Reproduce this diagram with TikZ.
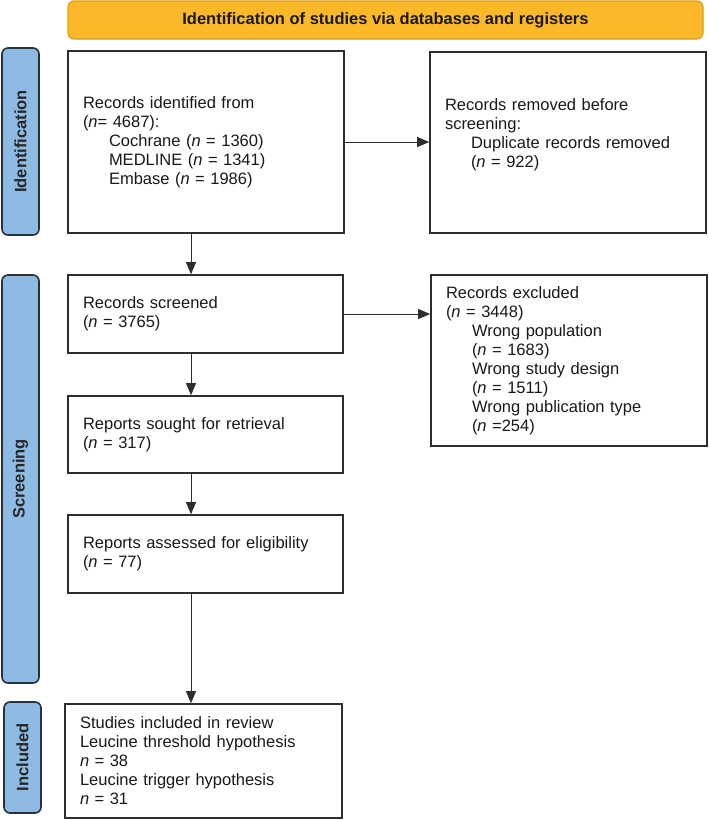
\documentclass[tikz,border=0pt]{standalone}
\usepackage{fontspec}
\setmainfont{Liberation Sans}
\usetikzlibrary{arrows.meta}
\definecolor{hdrfill}{HTML}{FBB829}
\definecolor{hdrdraw}{HTML}{D99E1E}
\definecolor{barfill}{HTML}{8DBBE3}
\definecolor{bardraw}{HTML}{2B2F36}
\definecolor{ln}{HTML}{2E2E2E}
\newcommand{\nn}{\textit{n}}
\newcommand{\ind}{\hspace*{26pt}}
\tikzset{
  box/.style={draw=ln, line width=1.6pt, inner xsep=15pt, inner ysep=0pt, align=left,
    font=\fontsize{16.5}{19}\selectfont, text=black!90},
  sidebar/.style={draw=bardraw, fill=barfill, line width=1.6pt, rounded corners=6pt,
    inner sep=0pt},
  sidetext/.style={rotate=90, font=\fontsize{16.5}{19}\selectfont\bfseries, text=black!85},
  header/.style={draw=hdrdraw, fill=hdrfill, line width=1.2pt, rounded corners=6pt,
    inner sep=0pt, font=\fontsize{16.5}{19}\selectfont\bfseries, text=black!90},
  arr/.style={draw=ln, line width=0.9pt, -{Triangle[length=12pt,width=10pt]}}
}
\begin{document}
\begin{tikzpicture}[x=1pt,y=-1pt]
\useasboundingbox (0,0) rectangle (709,820);
\fill[white] (0,0) rectangle (709,820);
% header
\node[header, minimum width=635pt, minimum height=38pt] (head) at (385.5,20) {Identification of studies via databases and registers};
% sidebars
\node[sidebar, minimum width=37pt, minimum height=187pt] (bid) at (20.5,141.5) {};
\node[sidetext] (tid) at (bid.center) {Identification};
\node[sidebar, minimum width=37pt, minimum height=408pt] (bscr) at (20.5,479) {};
\node[sidetext] (tscr) at (bscr.center) {Screening};
\node[sidebar, minimum width=37pt, minimum height=111pt] (binc) at (22.5,757.5) {};
\node[sidetext] (tinc) at (binc.center) {Included};
% boxes
\node[box, text width=246pt, minimum height=182pt] (box1) at (206,142)
  {Records identified from\\(\nn= 4687):\\\ind Cochrane (\nn{} = 1360)\\\ind MEDLINE (\nn{} = 1341)\\\ind Embase (\nn{} = 1986)};
\node[box, text width=246pt, minimum height=181pt] (box2) at (568,142.5)
  {Records removed before\\screening:\\\ind Duplicate records removed\\\ind (\nn{} = 922)\\\mbox{}};
\node[box, text width=245pt, minimum height=78pt] (box3) at (205.5,314)
  {Records screened\\(\nn{} = 3765)};
\node[box, text width=246pt, minimum height=171pt] (box4) at (569,360.5)
  {Records excluded\\(\nn{} = 3448)\\\ind Wrong population\\\ind (\nn{} = 1683)\\\ind Wrong study design\\\ind (\nn{} = 1511)\\\ind Wrong publication type\\\ind (\nn{} =254)};
\node[box, text width=245pt, minimum height=77pt] (box5) at (205.5,434.5)
  {Reports sought for retrieval\\(\nn{} = 317)};
\node[box, text width=245pt, minimum height=78pt] (box6) at (205.5,554)
  {Reports assessed for eligibility\\(\nn{} = 77)};
\node[box, text width=247pt, minimum height=114pt] (box7) at (203.5,761)
  {Studies included in review\\Leucine threshold hypothesis\\\nn{} = 38\\Leucine trigger hypothesis\\\nn{} = 31};
% connectors
\coordinate (ax) at (191,0);
\draw[arr] (box1.south -| ax) -- (box3.north -| ax);
\draw[arr] (box3.south -| ax) -- (box5.north -| ax);
\draw[arr] (box5.south -| ax) -- (box6.north -| ax);
\draw[arr] (box6.south -| ax) -- (box7.north -| ax);
\draw[arr] (box1.east) -- (box1.east -| box2.west);
\draw[arr] (box3.east) -- (box3.east -| box4.west);
\end{tikzpicture}
\end{document}
